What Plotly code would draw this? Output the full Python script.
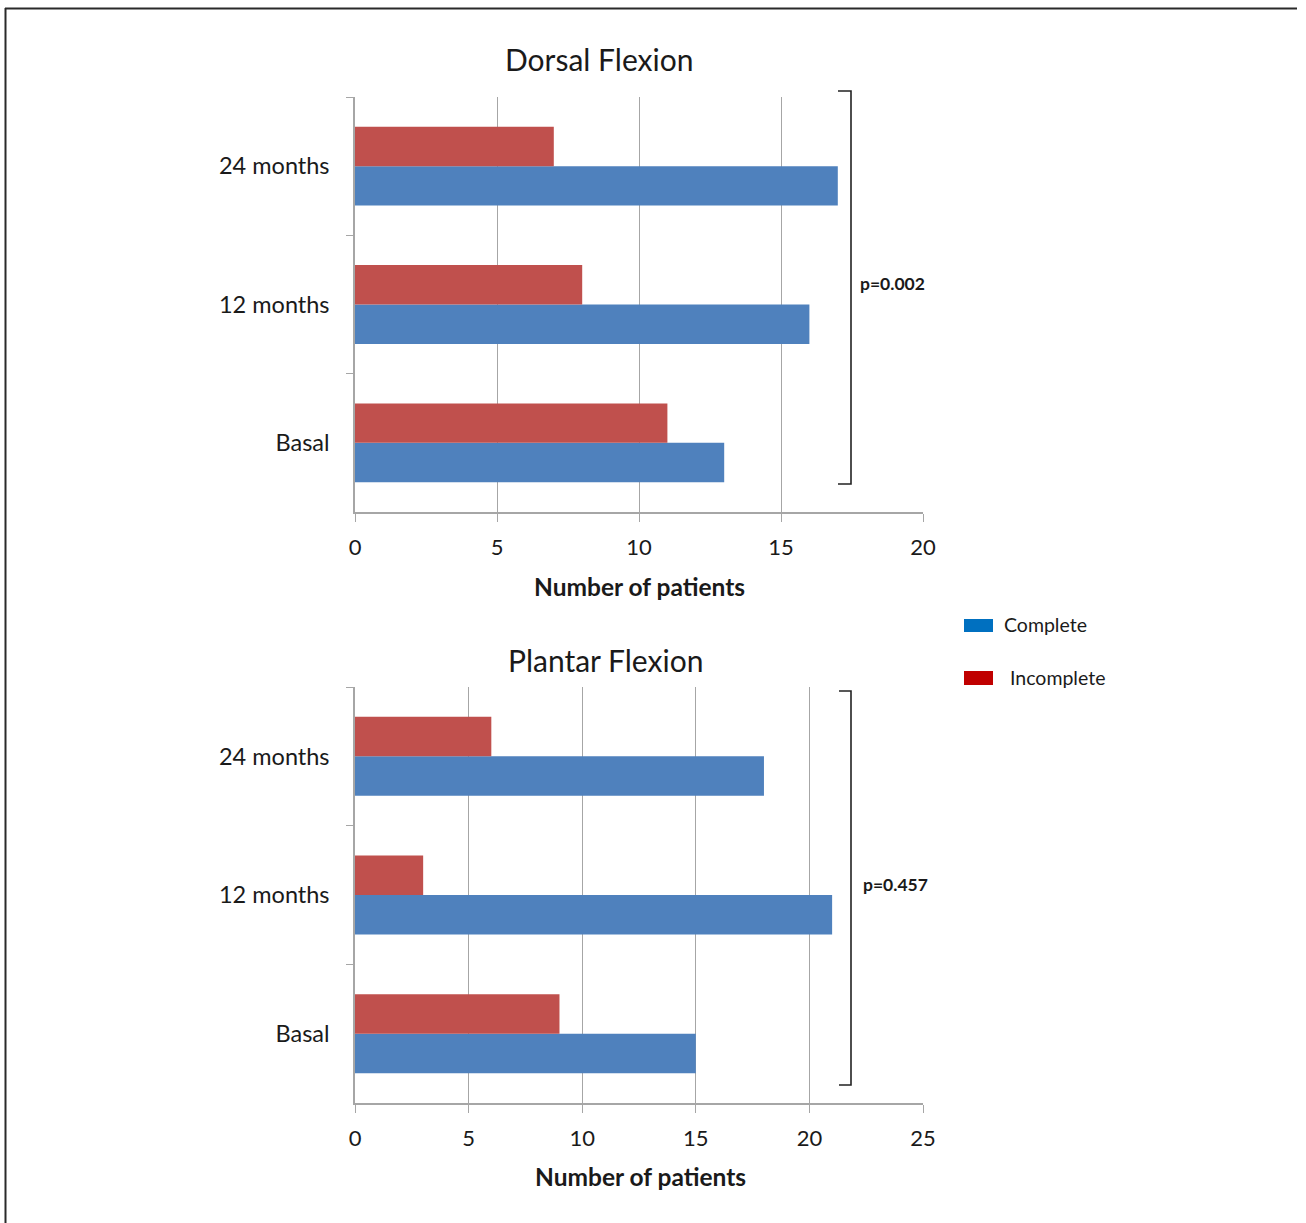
import plotly.graph_objects as go

# ---- data ----
periods = ["Basal", "12 months", "24 months"]
dorsal_complete = [13, 16, 17]
dorsal_incomplete = [11, 8, 7]
plantar_complete = [15, 21, 18]
plantar_incomplete = [9, 3, 6]
dorsal_ticks = [0, 5, 10, 15, 20]
plantar_ticks = [0, 5, 10, 15, 20, 25]
dorsal_p = "p=0.002"
plantar_p = "p=0.457"
series_names = ["Complete", "Incomplete"]

W, H = 1306, 1223
FONT = "Lato"
BAR_BLUE = "#4F81BD"
BAR_RED = "#C0504D"
LEG_BLUE = "#0070C0"
LEG_RED = "#C00000"
GRID = "#A6A6A6"


def px(x):
    return x / W


def py(y):
    return 1 - y / H


fig = go.Figure()

panels = [
    dict(xa="x", ya="y", comp=dorsal_complete, inc=dorsal_incomplete),
    dict(xa="x2", ya="y2", comp=plantar_complete, inc=plantar_incomplete),
]

for p in panels:
    fig.add_trace(go.Bar(y=periods, x=p["comp"], orientation="h", name=series_names[0],
                         marker=dict(color=BAR_BLUE, line=dict(width=0)),
                         xaxis=p["xa"], yaxis=p["ya"], showlegend=False, hoverinfo="skip"))
    fig.add_trace(go.Bar(y=periods, x=p["inc"], orientation="h", name=series_names[1],
                         marker=dict(color=BAR_RED, line=dict(width=0)),
                         xaxis=p["xa"], yaxis=p["ya"], showlegend=False, hoverinfo="skip"))

xaxis_common = dict(
    showgrid=True, gridcolor=GRID, gridwidth=1.3,
    showline=True, linecolor=GRID, linewidth=1.5,
    ticks="outside", ticklen=8, tickcolor=GRID, tickwidth=1.3,
    tickfont=dict(family=FONT, size=22, color="#1a1a1a"),
    ticklabelstandoff=7, zeroline=False, fixedrange=True, automargin=False,
)
yaxis_common = dict(
    showgrid=False, showline=True, linecolor=GRID, linewidth=1.5,
    ticks="outside", ticklen=7, tickcolor=GRID, tickwidth=1.3, tickson="boundaries",
    tickfont=dict(family=FONT, size=23.5, color="#1a1a1a"),
    ticklabelstandoff=19, range=[-0.5, 2.5], fixedrange=True, automargin=False,
)

fig.update_layout(
    width=W, height=H,
    margin=dict(l=0, r=0, t=0, b=0, pad=0, autoexpand=False),
    paper_bgcolor="white", plot_bgcolor="white",
    barmode="group", bargap=0.43, bargroupgap=0,
    font=dict(family=FONT, color="#1a1a1a"),
    xaxis=dict(domain=[px(355), px(923)], anchor="y", range=[0, 20],
               tickvals=dorsal_ticks, **xaxis_common),
    yaxis=dict(domain=[py(512), py(97)], anchor="x", **yaxis_common),
    xaxis2=dict(domain=[px(355), px(923)], anchor="y2", range=[0, 25],
                tickvals=plantar_ticks, **xaxis_common),
    yaxis2=dict(domain=[py(1103), py(687)], anchor="x2", **yaxis_common),
)

annotations = [
    dict(text="Dorsal Flexion", x=px(599), y=py(59), font=dict(size=30)),
    dict(text="Plantar Flexion", x=px(605), y=py(660), font=dict(size=30)),
    dict(text="<b>Number of patients</b>", x=px(639), y=py(587), font=dict(size=24.5)),
    dict(text="<b>Number of patients</b>", x=px(640), y=py(1176), font=dict(size=24.5)),
    dict(text="<b>" + dorsal_p + "</b>", x=px(858), y=py(283), xanchor="left", font=dict(size=17.5)),
    dict(text="<b>" + plantar_p + "</b>", x=px(861), y=py(884), xanchor="left", font=dict(size=17.5)),
    dict(text=series_names[0], x=px(1002), y=py(624), xanchor="left", font=dict(size=19.5)),
    dict(text=series_names[1], x=px(1008), y=py(677), xanchor="left", font=dict(size=19.5)),
]
for a in annotations:
    a.setdefault("xanchor", "center")
    fig.add_annotation(xref="paper", yref="paper", yanchor="middle", showarrow=False,
                       font=dict(family=FONT, color="#1a1a1a", **a.pop("font")), **a)

shapes = []
# significance brackets
for x0, x1, y0, y1 in [(838, 851, 91, 484), (839, 851, 691, 1085)]:
    shapes.append(dict(type="path",
                       path=f"M {px(x0)},{py(y0)} L {px(x1)},{py(y0)} L {px(x1)},{py(y1)} L {px(x0)},{py(y1)}",
                       line=dict(color="#222222", width=1.6)))
# legend swatches
shapes.append(dict(type="rect", x0=px(964), x1=px(993), y0=py(632), y1=py(619),
                   fillcolor=LEG_BLUE, line=dict(width=0)))
shapes.append(dict(type="rect", x0=px(964), x1=px(993), y0=py(685), y1=py(671),
                   fillcolor=LEG_RED, line=dict(width=0)))
# outer frame (top and left edges)
shapes.append(dict(type="line", x0=px(5), x1=px(1297), y0=py(8.5), y1=py(8.5),
                   line=dict(color="#2a2a2a", width=2)))
shapes.append(dict(type="line", x0=px(5.5), x1=px(5.5), y0=py(8), y1=py(H),
                   line=dict(color="#2a2a2a", width=2)))
for s in shapes:
    fig.add_shape(xref="paper", yref="paper", layer="above", **s)

fig.write_html("out.html", config=dict(displayModeBar=False),
               post_script="document.body.style.margin='0';document.body.style.overflow='hidden';")
